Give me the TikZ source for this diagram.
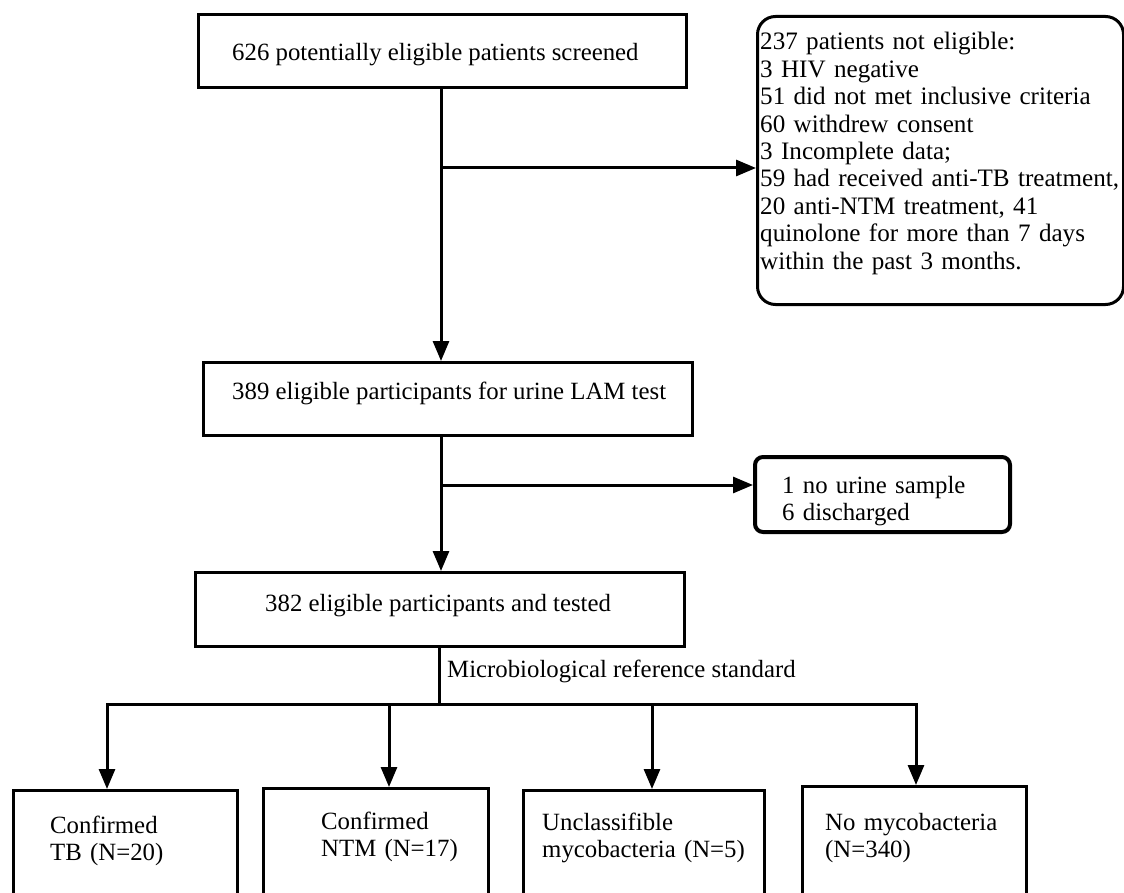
\documentclass[tikz,border=0pt]{standalone}
\usepackage{fontspec}
\setmainfont{Liberation Serif}
\usetikzlibrary{arrows.meta}
\begin{document}
\begin{tikzpicture}[x=1pt,y=-1pt,
  box/.style={draw, line width=3pt, rectangle, inner sep=0pt, anchor=north west},
  rbox/.style={box, rounded corners=18pt},
  sbox/.style={box, line width=4pt, rounded corners=8pt},
  txt/.style={inner sep=0pt, anchor=base west, font=\fontsize{24.8}{27.5}\selectfont},
  mtxt/.style={txt, text width=350pt, align=left},
  conn/.style={line width=3pt},
  tip/.style={-{Triangle[length=20pt,width=16pt]}},
  arr/.style={conn, tip}
]
\useasboundingbox (0,0) rectangle (1124,893);
\clip (0,0) rectangle (1124,893);

% boxes
\node[box, minimum width=488pt, minimum height=73pt] (n1) at (197,13) {};
\node[rbox, minimum width=366pt, minimum height=288pt] (ex1) at (756,15) {};
\node[box, minimum width=489pt, minimum height=73pt] (n2) at (202,361) {};
\node[sbox, minimum width=255pt, minimum height=75pt] (sm) at (753,455) {};
\node[box, minimum width=489pt, minimum height=74pt] (n3) at (194,571) {};
\node[box, minimum width=224pt, minimum height=140pt] (b1) at (12,789) {};
\node[box, minimum width=225pt, minimum height=140pt] (b2) at (262,787) {};
\node[box, minimum width=241pt, minimum height=140pt] (b3) at (522,789) {};
\node[box, minimum width=224pt, minimum height=140pt] (b4) at (801,785) {};

% texts
\node[txt] (t1) at (232,61) {626 potentially eligible patients screened};
\node[mtxt, text width=362pt, font=\fontsize{25.1}{27.4}\selectfont] (tex) at (760,50) {237 patients not eligible:\\
3 HIV negative\\
51 did not met inclusive criteria\\
60 withdrew consent\\
3 Incomplete data;\\
59 had received anti-TB treatment,\\
20 anti-NTM treatment, 41\\
quinolone for more than 7 days\\
within the past 3 months.};
\node[txt] (t2) at (232,399) {389 eligible participants for urine LAM test};
\node[mtxt, text width=220pt, font=\fontsize{24.8}{27}\selectfont] (tsm) at (782,493) {1 no urine sample\\6 discharged};
\node[txt] (t3) at (265,611) {382 eligible participants and tested};
\node[txt] (lab) at (447,677) {Microbiological reference standard};
\node[mtxt, text width=180pt] (tb1) at (50,833) {Confirmed\\TB (N=20)};
\node[mtxt, text width=160pt] (tb2) at (321,829) {Confirmed\\NTM (N=17)};
\node[mtxt, text width=215pt] (tb3) at (542,830) {Unclassifible\\mycobacteria (N=5)};
\node[mtxt, text width=190pt] (tb4) at (825,830) {No mycobacteria\\(N=340)};

% connectors
\coordinate (j1) at (441,168);
\coordinate (j2) at (441,485);
\draw[arr] (n1.south -| j1) -- (j1 |- n2.north);
\draw[arr] (j1) -- (j1 -| ex1.west);
\draw[arr] (j1 |- n2.south) -- (j1 |- n3.north);
\draw[arr] (j2) -- (j2 -| sm.west);

\coordinate (h1) at (107,704);
\coordinate (h2) at (389,704);
\coordinate (h3) at (652,704);
\coordinate (h4) at (916,704);
\draw[conn] (n3.south -| 439,0) -- (439,704);
\draw[conn, {Triangle[length=20pt,width=16pt]}-{Triangle[length=20pt,width=16pt]}] (h1 |- b1.north) -- (h1) -- (h4) -- (h4 |- b4.north);
\draw[arr] (h2) -- (h2 |- b2.north);
\draw[arr] (h3) -- (h3 |- b3.north);
\end{tikzpicture}
\end{document}
